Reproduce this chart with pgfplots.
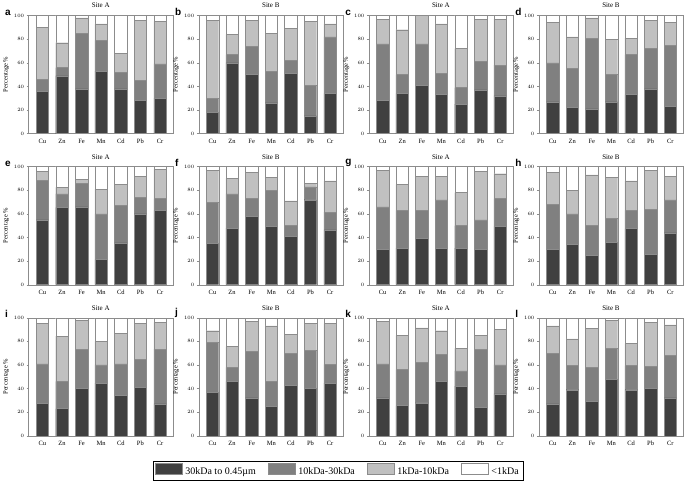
\documentclass[border=0pt]{standalone}
\usepackage{fontspec}
\setmainfont{Liberation Serif}
\newfontfamily\lettfont{Liberation Sans}
\usepackage{pgfplots}
\usepackage{pgfplotstable}
\pgfplotsset{compat=1.18}
\usepgfplotslibrary{groupplots}

\definecolor{cdark}{HTML}{404040}
\definecolor{cmid}{HTML}{808080}
\definecolor{clight}{HTML}{C0C0C0}
\definecolor{edge}{HTML}{8C8C8C}

% columns: d = 30kDa-0.45um, m = 10-30kDa, l = 1-10kDa, w = <1kDa
\pgfplotstableread{
x d m l w
0 36 10 44 10
1 49 7 21 23
2 38 47 13 2
3 53 26 14 7
4 38 14 16 32
5 28 17 51 4
6 30 29 36 5
}\tabA
\pgfplotstableread{
x d m l w
0 18 12 66 4
1 60 7 17 16
2 50 24 22 4
3 26 27 32 15
4 51 11 27 11
5 15 26 54 5
6 34 48 11 7
}\tabB
\pgfplotstableread{
x d m l w
0 28 48 21 3
1 34 16 38 12
2 41 35 24 0
3 33 18 42 7
4 25 14 33 28
5 37 24 36 3
6 32 26 39 3
}\tabC
\pgfplotstableread{
x d m l w
0 27 33 34 6
1 22 33 27 18
2 21 60 17 2
3 27 23 30 20
4 33 34 14 19
5 38 34 24 4
6 23 52 19 6
}\tabD
\pgfplotstableread{
x d m l w
0 55 33.5 7.5 4
1 65.5 11.5 5.5 17.5
2 66 20 3 11
3 21.5 38.5 21 19
4 35.5 31.5 18 15
5 60 14 18 8
6 63 10 25 2
}\tabE
\pgfplotstableread{
x d m l w
0 35 35 27 3
1 48 29 13 10
2 58 15 22 5
3 49.5 30.5 11 9
4 41 9.5 20.5 29
5 72 11 3 14
6 46.5 15 26.5 12
}\tabF
\pgfplotstableread{
x d m l w
0 30 36 31 3
1 31 32 22 15
2 39 24 29 8
3 30.5 41.5 20 8
4 31 19 28 22
5 30 25 41 4
6 49.5 23.5 21 6
}\tabG
\pgfplotstableread{
x d m l w
0 30 38 27 5
1 34 26 20 20
2 25 25 43 7
3 36 20 35 9
4 47.5 15.5 25 12
5 26 38 33 3
6 44 28 20 8
}\tabH
\pgfplotstableread{
x d m l w
0 27.5 33.5 34.5 4.5
1 23 23 38.5 15.5
2 40 33 25 2
3 44.5 15.5 20 20
4 34 27 26 13
5 41 23.5 30.5 5
6 27 46.5 22.5 4
}\tabI
\pgfplotstableread{
x d m l w
0 37 42 10 11
1 46 12 17.5 24.5
2 32 39.5 25.5 3
3 25 21 47 7
4 43 27 16 14
5 40 32.5 22.5 5
6 44.5 16 34.5 5
}\tabJ
\pgfplotstableread{
x d m l w
0 32 29 36 3
1 25.5 30.5 29 15
2 28 34 29.5 8.5
3 46 23 20 11
4 42 13 19 26
5 24 49 12 15
6 35.5 24.5 30 10
}\tabK
\pgfplotstableread{
x d m l w
0 27 43 23 7
1 39 20.5 22.5 18
2 29 29 33 9
3 48 26 24 2
4 39 20.5 18.5 22
5 40 19 37 4
6 32 36 26 6
}\tabL

\newcommand{\bars}[1]{%
  \addplot[fill=cdark,draw=edge] table[x=x,y=d]{#1};
  \addplot[fill=cmid,draw=edge] table[x=x,y=m]{#1};
  \addplot[fill=clight,draw=edge] table[x=x,y=l]{#1};
  \addplot[fill=white,draw=edge] table[x=x,y=w]{#1};}
\newcommand{\lett}[1]{\node[anchor=south west,inner sep=0pt,font=\lettfont\bfseries\fontsize{10}{10}\selectfont] at (rel axis cs:-0.165,1.0) {#1};}

\begin{document}
\begin{tikzpicture}
\begin{groupplot}[
  group style={group size=4 by 3, horizontal sep=26pt, vertical sep=33pt},
  scale only axis, width=144pt, height=118pt,
  ybar stacked, /pgf/bar width=12.5pt,
  ymin=0, ymax=100, xmin=-0.7, xmax=6.65,
  ytick={0,20,...,100}, xtick={0,...,6},
  xticklabels={Cu,Zn,Fe,Mn,Cd,Pb,Cr},
  x tick style={draw=none},
  y tick style={edge, thin},
  tick align=outside, major tick length=2pt,
  ytick pos=left,
  axis line style={edge},
  clip=false,
  ylabel={Percentage~\%},
  ylabel style={font=\fontsize{6.5}{7}\selectfont, yshift=-2pt},
  y tick label style={font=\fontsize{5.5}{6}\selectfont, xshift=1pt},
  x tick label style={font=\fontsize{6.5}{7}\selectfont},
  title style={font=\fontsize{7}{8}\selectfont, yshift=-2pt},
]
\nextgroupplot[title={Site A}] \bars{\tabA} \lett{a}
\nextgroupplot[title={Site B}] \bars{\tabB} \lett{b}
\nextgroupplot[title={Site A}] \bars{\tabC} \lett{c}
\nextgroupplot[title={Site B}] \bars{\tabD} \lett{d}
\nextgroupplot[title={Site A}] \bars{\tabE} \lett{e}
\nextgroupplot[title={Site B}] \bars{\tabF} \lett{f}
\nextgroupplot[title={Site A}] \bars{\tabG} \lett{g}
\nextgroupplot[title={Site B}] \bars{\tabH} \lett{h}
\nextgroupplot[title={Site A}] \bars{\tabI} \lett{i}
\nextgroupplot[title={Site B}] \bars{\tabJ} \lett{j}
\nextgroupplot[title={Site A}] \bars{\tabK} \lett{k}
\nextgroupplot[title={Site B}] \bars{\tabL} \lett{l}
\end{groupplot}
\begin{axis}[hide axis, scale only axis, width=1pt, height=1pt,
  at={(group c2r3.south east)}, anchor=center, xshift=-5pt, yshift=-35pt,
  xmin=0, xmax=1, ymin=0, ymax=1,
  legend columns=4,
  legend style={at={(0.5,0.5)}, anchor=center, draw=black, thin,
    font=\fontsize{10}{11}\selectfont, inner sep=2pt,
    /tikz/every odd column/.append style={column sep=1pt},
    /tikz/every even column/.append style={column sep=10pt}},
  legend image code/.code={\draw[#1] (0pt,-2.5pt) rectangle (27pt,8.5pt);}]
\addlegendimage{fill=cdark,draw=edge}
\addlegendentry{30kDa to 0.45µm}
\addlegendimage{fill=cmid,draw=edge}
\addlegendentry{10kDa-30kDa}
\addlegendimage{fill=clight,draw=edge}
\addlegendentry{1kDa-10kDa}
\addlegendimage{fill=white,draw=edge}
\addlegendentry{<1kDa}
\end{axis}
\path ([xshift=-25pt,yshift=13pt]group c1r1.north west) rectangle ([xshift=2pt,yshift=-45pt]group c4r3.south east);
\end{tikzpicture}
\end{document}
